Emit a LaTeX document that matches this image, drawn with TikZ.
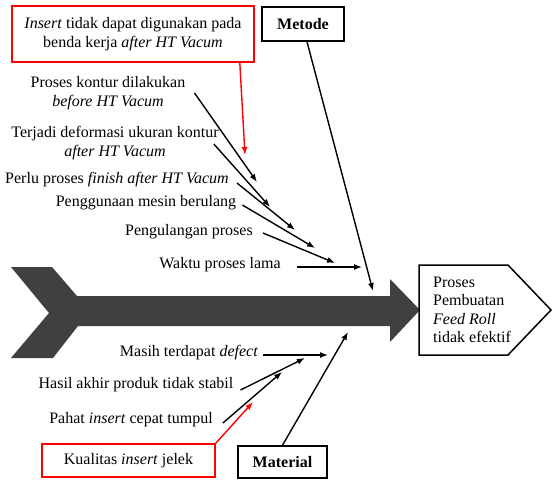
\documentclass[tikz,border=0pt]{standalone}
\usepackage{fontspec}
\setmainfont{Liberation Serif}
\usetikzlibrary{arrows.meta,calc}
\definecolor{spinegray}{HTML}{404040}
\begin{document}
\begin{tikzpicture}[x=1pt,y=-1pt,
  every node/.style={font=\fontsize{16}{18.5}\selectfont},
  cause/.style={inner sep=0pt, align=center},
  conn/.style={line width=1.4pt, -{Latex[length=8pt,width=6pt]}},
  redconn/.style={conn, red},
  catbox/.style={draw, line width=1.6pt, inner sep=0pt,
    font=\fontsize{16}{18.5}\selectfont\bfseries},
  notebox/.style={draw=red, line width=1.6pt, inner sep=0pt, align=center}]
\useasboundingbox (0,0) rectangle (552,485);

% backbone of the fishbone
\fill[spinegray] (11,267) -- (52,267) -- (77,296) -- (390,296) -- (390,279)
  -- (420,310) -- (390,342) -- (390,326) -- (78,326) -- (53,358) -- (11,358)
  -- (49,313) -- cycle;

% effect (head)
\draw[line width=1.5pt] (419,265) -- (508,265) -- (551,310) -- (508,355)
  -- (419,355) -- cycle;
\node[inner sep=0pt, align=left, anchor=west] (effect) at (433,310)
  {Proses\\Pembuatan\\\textit{Feed Roll}\\tidak efektif};

% categories
\node[catbox, minimum width=82pt, minimum height=34pt] (metode) at (303,24) {Metode};
\node[catbox, minimum width=89pt, minimum height=32pt] (material) at (282.5,462) {Material};

% notes
\node[notebox, minimum width=242pt, minimum height=56pt] (noteA) at (133,34)
  {\textit{Insert} tidak dapat digunakan pada\\benda kerja \textit{after HT Vacum}};
\node[notebox, minimum width=173pt, minimum height=33pt] (noteB) at (128.5,460.5)
  {Kualitas \textit{insert} jelek};

% causes, upper side
\node[cause] (t1) at (108,93) {Proses kontur dilakukan\\\textit{before HT Vacum}};
\node[cause] (t2) at (115,143) {Terjadi deformasi ukuran kontur\\\textit{after HT Vacum}};
\node[cause] (t3) at (117,180) {Perlu proses \textit{finish after HT Vacum}};
\node[cause] (t4) at (146,203) {Penggunaan mesin berulang};
\node[cause] (t5) at (189,232) {Pengulangan proses};
\node[cause] (t6) at (220,265) {Waktu proses lama};

% causes, lower side
\node[cause] (b1) at (189,353) {Masih terdapat \textit{defect}};
\node[cause] (b2) at (136,385) {Hasil akhir produk tidak stabil};
\node[cause] (b3) at (131,420) {Pahat \textit{insert} cepat tumpul};

% arrow ends
\coordinate (e1) at (257,182);
\coordinate (e2) at (270,207);
\coordinate (e3) at (295,230);
\coordinate (e4) at (315,248);
\coordinate (e5) at (335,263);
\coordinate (e6) at (362,267);
\coordinate (em) at (373,291);
\coordinate (f1) at (328,355);
\coordinate (f2) at (305,358);
\coordinate (f3) at (282,372);
\coordinate (fm) at (348,332);
\coordinate (rA) at (245,155);
\coordinate (rB) at (253,402);

% connectors
\draw[conn] ($(t1.east)+(9,0)$) -- (e1);
\draw[conn] ($(t2.east)+(-5,1)$) -- (e2);
\draw[conn] ($(t3.east)+(8,3)$) -- (e3);
\draw[conn] ($(t4.east)+(6,2)$) -- (e4);
\draw[conn] ($(t5.east)+(10,1)$) -- (e5);
\draw[conn] ($(t6.east)+(16,2)$) -- (e6);
\draw[conn] ($(metode.south)+(4,0)$) -- (em);

\draw[conn] ($(b1.east)+(5,2)$) -- (f1);
\draw[conn] ($(b2.east)+(7,5)$) -- (f2);
\draw[conn] ($(b3.east)+(10,3)$) -- (f3);
\draw[conn] (material.north) -- (fm);

\draw[redconn] ($(noteA.south east)+(-15,0)$) -- (rA);
\draw[redconn] (noteB.north east) -- (rB);
\end{tikzpicture}
\end{document}
